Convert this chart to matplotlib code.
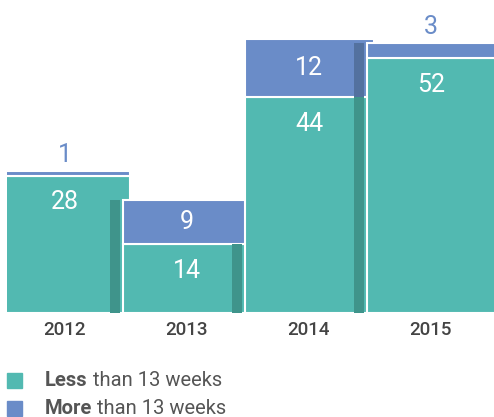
import matplotlib
matplotlib.use('Agg')
import matplotlib.pyplot as plt
from matplotlib.patches import Rectangle

years = ['2012', '2013', '2014', '2015']
less_13 = [28, 14, 44, 52]
more_13 = [1, 9, 12, 3]
shade_blue = [True, False, True]  # shadow strip also on the blue segment

TEAL = '#52b9b1'
BLUE = '#6a8cc8'
TEAL_DARK = '#3f948b'
BLUE_DARK = '#53719f'
GREY = '#444444'

plt.rcParams['font.family'] = ['Roboto', 'DejaVu Sans']


def main():
    fig = plt.figure(figsize=(4.94, 4.17), dpi=100)
    ax = fig.add_axes([7 / 494, 104 / 417, 487 / 494, 313 / 417])
    ux = 122.0  # px per bar step
    ax.set_xlim(6 / ux, 493 / ux)
    ax.set_ylim(0, 313 / 4.9)
    width = 129 / ux

    for i in range(len(years)):
        z = 2 + i
        total = less_13[i] + more_13[i]
        ax.bar(i, less_13[i], width=width, align='edge', color=TEAL,
               edgecolor='white', linewidth=1.5, zorder=z)
        ax.bar(i, more_13[i], bottom=less_13[i], width=width, align='edge',
               color=BLUE, edgecolor='white', linewidth=1.5, zorder=z)

        # shadow strip cast by the next bar
        if i < len(years) - 1:
            nxt = less_13[i + 1] + more_13[i + 1]
            sx = i + 1 - 13 / ux
            sw = 10 / ux
            ax.add_patch(Rectangle((sx, 0), sw, min(less_13[i], nxt),
                                   color=TEAL_DARK, lw=0, zorder=z + 0.5))
            if shade_blue[i] and nxt > less_13[i]:
                ax.add_patch(Rectangle((sx, less_13[i]), sw,
                                       min(total, nxt) - less_13[i],
                                       color=BLUE_DARK, lw=0, zorder=z + 0.5))

        cx = i + 64 / ux
        ax.annotate(str(less_13[i]), (cx, less_13[i]), xytext=(0, -19),
                    textcoords='offset points', ha='center', va='center',
                    color='white', fontsize=18, zorder=20)
        if more_13[i] >= 5:
            ax.text(cx, less_13[i] + more_13[i] / 2, str(more_13[i]),
                    ha='center', va='center', color='white', fontsize=18,
                    zorder=20)
        else:
            ax.annotate(str(more_13[i]), (cx, total), xytext=(0, 3),
                        textcoords='offset points', ha='center', va='bottom',
                        color=BLUE, fontsize=18, zorder=20)

    ax.set_xticks([i + 64 / ux for i in range(len(years))])
    ax.set_xticklabels(years, fontsize=13.5, color=GREY, fontweight='medium')
    ax.tick_params(axis='x', length=0, pad=6)
    ax.set_yticks([])
    for s in ax.spines.values():
        s.set_visible(False)

    # legend
    fig.canvas.draw()
    renderer = fig.canvas.get_renderer()
    for j, (bold, rest, col) in enumerate([('Less', ' than 13 weeks', TEAL),
                                           ('More', ' than 13 weeks', BLUE)]):
        yc = 1 - (380 + 28 * j) / 417
        fig.patches.append(Rectangle((7 / 494, yc - 7.5 / 417), 15 / 494, 15 / 417,
                                     transform=fig.transFigure, color=col,
                                     figure=fig))
        t = fig.text(45 / 494, yc, bold, fontsize=14.5, fontweight='bold',
                     color='#555555', va='center')
        bb = t.get_window_extent(renderer)
        fig.text(bb.x1 / fig.bbox.width, yc, rest, fontsize=14.5,
                 color='#555555', va='center')

    fig.savefig('out.png', dpi=100)


if __name__ == '__main__':
    main()
